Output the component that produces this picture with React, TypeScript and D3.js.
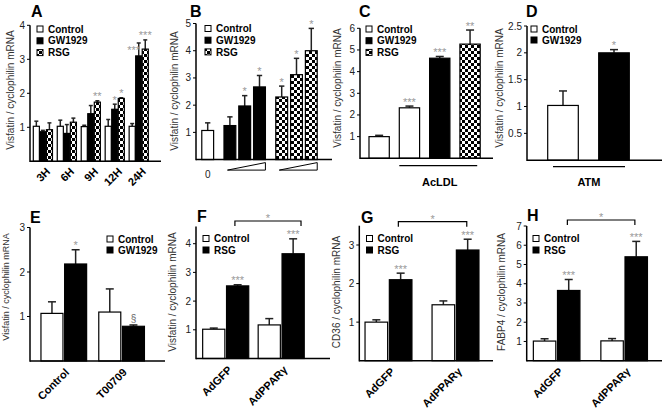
import React from "react";
import * as d3 from "d3";

// ---------------- DATA ----------------
const legend3 = ["Control", "GW1929", "RSG"];
const legendGW = ["Control", "GW1929"];
const legendRSG = ["Control", "RSG"];

const visfatinLabel = "Visfatin / cyclophilin mRNA";
const cd36Label = "CD36 / cyclophilin mRNA";
const fabp4Label = "FABP4 / cyclophilin mRNA";

// Panel A
const aGroups = ["3H", "6H", "9H", "12H", "24H"];
const aControl = [1.03, 1.03, 1.02, 1.03, 1.03];
const aControlErr = [0.15, 0.18, 0.04, 0.2, 0.08];
const aGW = [0.87, 0.82, 1.4, 1.53, 3.1];
const aGWErr = [0.04, 0.26, 0.24, 0.15, 0.38];
const aGWSig = ["", "", "", "*", "***"];
const aRSG = [0.93, 1.15, 1.74, 1.85, 3.3];
const aRSGErr = [0.2, 0.12, 0.04, 0.02, 0.27];
const aRSGSig = ["", "", "**", "*", "***"];
const aTicks = [1, 2, 3, 4];

// Panel B
const bZeroLabel = "0";
const bControl = [1.07];
const bControlErr = [0.28];
const bGW = [1.25, 1.97, 2.67];
const bGWErr = [0.32, 0.38, 0.42];
const bGWSig = ["", "*", "*"];
const bRSG = [2.3, 3.12, 4.0];
const bRSGErr = [0.4, 0.6, 0.82];
const bRSGSig = ["*", "*", "*"];
const bTicks = [1, 2, 3, 4, 5];

// Panel C
const cCategories = ["Control", "AcLDL", "AcLDL+GW1929", "AcLDL+RSG"];
const cValues = [1.0, 2.33, 4.62, 5.27];
const cErr = [0.06, 0.08, 0.08, 0.65];
const cSig = ["", "***", "***", "**"];
const cTicks = [1, 2, 3, 4, 5, 6];
const cTreatment = "AcLDL";

// Panel D
const dCategories = ["Control", "GW1929"];
const dValues = [1.02, 2.0];
const dErr = [0.27, 0.06];
const dSig = ["", "*"];
const dTicks = [0.5, 1, 1.5, 2, 2.5];
const dTreatment = "ATM";

// Panel E
const eGroups = ["Control", "T00709"];
const eControl = [1.07, 1.1];
const eControlErr = [0.26, 0.52];
const eGW = [2.18, 0.78];
const eGWErr = [0.32, 0.03];
const eGWSig = ["*", "§"];
const eTicks = [1, 2, 3];

// Panels F, G, H
const adGroups = ["AdGFP", "AdPPARγ"];
const fControl = [1.02, 1.17];
const fControlErr = [0.04, 0.22];
const fRSG = [2.53, 3.65];
const fRSGErr = [0.04, 0.52];
const fRSGSig = ["***", "***"];
const fTicks = [1, 2, 3, 4];

const gControl = [1.0, 1.45];
const gControlErr = [0.06, 0.1];
const gRSG = [2.1, 2.87];
const gRSGErr = [0.17, 0.28];
const gRSGSig = ["***", "***"];
const gTicks = [1, 2, 3];

const hControl = [1.02, 1.03];
const hControlErr = [0.12, 0.12];
const hRSG = [3.65, 5.4];
const hRSGErr = [0.57, 0.8];
const hRSGSig = ["***", "***"];
const hTicks = [1, 2, 3, 4, 5, 6, 7];

const bracketSig = "*";

// ---------------- RENDER ----------------
const FONT = "Arial, 'Liberation Sans', Helvetica, sans-serif";
type Fill = "white" | "black" | "check";
interface Bar { x: number; w: number; v: number; err: number; fill: Fill; sig: string; sdx?: number; sdy?: number; }
interface Series { vals: number[]; errs: number[]; sigs: string[]; fill: Fill; }

const fillOf = (f: Fill) => (f === "white" ? "#fff" : f === "black" ? "#000" : "url(#checker)");
const fills3: Fill[] = ["white", "black", "check"];

function grouped(groups: string[], series: Series[], range: [number, number], pi: number, po: number, ip: number) {
  const outer = d3.scaleBand().domain(groups).range(range).paddingInner(pi).paddingOuter(po);
  const inner = d3.scaleBand().domain(series.map((_, i) => String(i))).range([0, outer.bandwidth()]).paddingInner(ip);
  const bars: Bar[] = [];
  groups.forEach((g, gi) => {
    series.forEach((s, si) => {
      bars.push({ x: (outer(g) as number) + (inner(String(si)) as number), w: inner.bandwidth(), v: s.vals[gi], err: s.errs[gi], sig: s.sigs[gi], fill: s.fill });
    });
  });
  return { outer, bars };
}

function YAxis({ y, x0, ticks, top, fmt }: { y: any; x0: number; ticks: number[]; top: number; fmt?: (v: number) => string }) {
  return (
    <g>
      <line x1={x0} x2={x0} y1={y(0) + 0.75} y2={y(top)} stroke="#000" strokeWidth={1.5} />
      {ticks.map((t) => (
        <g key={t}>
          <line x1={x0 - 3} x2={x0} y1={y(t)} y2={y(t)} stroke="#000" strokeWidth={1} />
          <text x={x0 - 5} y={y(t)} dy="0.35em" textAnchor="end" fontSize={10} fill="#222">{fmt ? fmt(t) : String(t)}</text>
        </g>
      ))}
    </g>
  );
}

function XAxis({ y, x0, x1 }: { y: number; x0: number; x1: number }) {
  return <line x1={x0} x2={x1} y1={y} y2={y} stroke="#000" strokeWidth={1.5} />;
}

function Bars({ bars, y }: { bars: Bar[]; y: any }) {
  return (
    <g>
      {bars.map((b, i) => {
        const top = y(b.v);
        const capY = y(b.v + b.err);
        const cx = b.x + b.w / 2;
        const cap = Math.max(4, Math.min(8, b.w * 0.45));
        const isSect = b.sig === "§";
        return (
          <g key={i}>
            <line x1={cx} x2={cx} y1={top} y2={capY} stroke="#222" strokeWidth={1.5} />
            <line x1={cx - cap / 2} x2={cx + cap / 2} y1={capY} y2={capY} stroke="#222" strokeWidth={1.5} />
            <rect x={b.x} y={top} width={b.w} height={y(0) - top} fill={fillOf(b.fill)} stroke="#000" strokeWidth={1.2} />
            {b.sig ? (
              <text x={cx + (b.sdx || 0)} y={capY + (isSect ? -2.5 : -0.5) + (b.sdy || 0)} textAnchor="middle" fontSize={isSect ? 10 : 11} fill={isSect ? "#666" : "#999"}>{b.sig}</text>
            ) : null}
          </g>
        );
      })}
    </g>
  );
}

function Legend({ labels, fillsList, x, y, step }: { labels: string[]; fillsList: Fill[]; x: number; y: number; step: number }) {
  return (
    <g>
      {labels.map((l, i) => (
        <g key={l}>
          <rect x={x} y={y + i * step - 3} width={6} height={6} fill={fillOf(fillsList[i])} stroke="#000" strokeWidth={1} />
          <text x={x + 11} y={y + i * step + 3.6} fontSize={10} fontWeight="bold" fill="#000">{l}</text>
        </g>
      ))}
    </g>
  );
}

function YLabel({ text, x, y, size }: { text: string; x: number; y: number; size: number }) {
  return <text transform={`translate(${x},${y}) rotate(-90)`} textAnchor="middle" fontSize={size} fill="#333">{text}</text>;
}

function Letter({ t, x, y }: { t: string; x: number; y: number }) {
  return <text x={x} y={y} fontSize={16} fontWeight="bold" fill="#000">{t}</text>;
}

function RotLabels({ labels, outer, y0, dx, dy, size }: { labels: string[]; outer: any; y0: number; dx: number; dy: number; size: number }) {
  return (
    <g>
      {labels.map((l) => {
        const cx = outer(l) + outer.bandwidth() / 2;
        return <text key={l} transform={`translate(${cx + dx},${y0 + dy}) rotate(-45)`} textAnchor="end" fontSize={size} fontWeight="bold" fill="#000">{l}</text>;
      })}
    </g>
  );
}

function Bracket({ x1, x2, y, sig }: { x1: number; x2: number; y: number; sig: string }) {
  return (
    <g>
      <path d={`M${x1},${y + 5}V${y}H${x2}V${y + 5}`} fill="none" stroke="#000" strokeWidth={1.2} />
      <text x={(x1 + x2) / 2} y={y + 1} textAnchor="middle" fontSize={11} fill="#999">{sig}</text>
    </g>
  );
}

export default function App() {
  // ---- Panel A
  const yA = d3.scaleLinear().domain([0, 4]).range([161.3, 25.3]);
  const A = grouped(aGroups, [
    { vals: aControl, errs: aControlErr, sigs: aGroups.map(() => ""), fill: "white" },
    { vals: aGW, errs: aGWErr, sigs: aGWSig, fill: "black" },
    { vals: aRSG, errs: aRSGErr, sigs: aRSGSig, fill: "check" },
  ], [30.9, 150.7], 0.2, 0.1, 0.07);
  // avoid collision of the 24H GW1929 stars with the RSG stars
  A.bars[13].sdx = -5; A.bars[13].sdy = 12;

  // ---- Panel B
  const yB = d3.scaleLinear().domain([0, 5]).range([159.6, 23.5]);
  const slots = [0, 1.5, 2.5, 3.5, 5, 6, 7];
  const xB = d3.scaleLinear().domain([0, 7]).range([207.7, 311.3]);
  const bStep = xB(1) - xB(0);
  const bW = bStep * 0.8;
  const bVals = [...bControl, ...bGW, ...bRSG];
  const bErrs = [...bControlErr, ...bGWErr, ...bRSGErr];
  const bSigs = ["", ...bGWSig, ...bRSGSig];
  const bFills: Fill[] = ["white", "black", "black", "black", "check", "check", "check"];
  const B: Bar[] = bVals.map((v, i) => ({ x: xB(slots[i]) - bW / 2, w: bW, v, err: bErrs[i], sig: bSigs[i], fill: bFills[i] }));
  const wedge = (a: number, b: number) => {
    const l = xB(a) - bW / 2 + 3.5, r = xB(b) + bW / 2;
    const yb = yB(0) + 10.5;
    return `M${l},${yb}L${r},${yb - 7.5}L${r},${yb}Z`;
  };

  // ---- Panel C
  const yC = d3.scaleLinear().domain([0, 6]).range([158.3, 28.3]);
  const xC = d3.scaleBand().domain(cCategories).range([359.9, 489.3]).paddingInner(0.33).paddingOuter(0.3);
  const cFills: Fill[] = ["white", "white", "black", "check"];
  const C: Bar[] = cCategories.map((c, i) => ({ x: xC(c) as number, w: xC.bandwidth(), v: cValues[i], err: cErr[i], sig: cSig[i], fill: cFills[i] }));

  // ---- Panel D
  const yD = d3.scaleLinear().domain([0, 2.5]).range([160.2, 26]);
  const xD = d3.scaleBand().domain(dCategories).range([527.3, 649.7]).paddingInner(0.4).paddingOuter(0.4);
  const dFills: Fill[] = ["white", "black"];
  const D: Bar[] = dCategories.map((c, i) => ({ x: xD(c) as number, w: xD.bandwidth(), v: dValues[i], err: dErr[i], sig: dSig[i], fill: dFills[i] }));

  // ---- Panel E
  const yE = d3.scaleLinear().domain([0, 3]).range([361, 227.5]);
  const E = grouped(eGroups, [
    { vals: eControl, errs: eControlErr, sigs: ["", ""], fill: "white" },
    { vals: eGW, errs: eGWErr, sigs: eGWSig, fill: "black" },
  ], [29.4, 156], 0.21, 0.2, 0.07);

  // ---- Panel F
  const yF = d3.scaleLinear().domain([0, 4]).range([358.5, 243.7]);
  const F = grouped(adGroups, [
    { vals: fControl, errs: fControlErr, sigs: ["", ""], fill: "white" },
    { vals: fRSG, errs: fRSGErr, sigs: fRSGSig, fill: "black" },
  ], [196, 310.9], 0.17, 0.12, 0.07);

  // ---- Panel G
  const yG = d3.scaleLinear().domain([0, 3]).range([360.7, 245]);
  const G = grouped(adGroups, [
    { vals: gControl, errs: gControlErr, sigs: ["", ""], fill: "white" },
    { vals: gRSG, errs: gRSGErr, sigs: gRSGSig, fill: "black" },
  ], [359, 485], 0.3, 0.09, 0.07);

  // ---- Panel H
  const yH = d3.scaleLinear().domain([0, 7]).range([360.7, 226]);
  const H = grouped(adGroups, [
    { vals: hControl, errs: hControlErr, sigs: ["", ""], fill: "white" },
    { vals: hRSG, errs: hRSGErr, sigs: hRSGSig, fill: "black" },
  ], [526.6, 654.2], 0.31, 0.1, 0.07);

  const bx = (o: any, g: string, f: number) => o(g) + o.bandwidth() * f;

  return (
    <svg width={664} height={410} style={{ position: "absolute", left: 0, top: 0, background: "#fff" }} fontFamily={FONT}>
      <defs>
        <pattern id="checker" patternUnits="userSpaceOnUse" width={6} height={6}>
          <rect x={0} y={0} width={6} height={6} fill="#fff" />
          <rect x={0} y={0} width={3} height={3} fill="#000" />
          <rect x={3} y={3} width={3} height={3} fill="#000" />
        </pattern>
      </defs>
      <rect width={664} height={410} fill="#fff" />

      {/* A */}
      <Letter t="A" x={31} y={17} />
      <YLabel text={visfatinLabel} x={14} y={90} size={10} />
      <Bars bars={A.bars} y={yA} />
      <YAxis y={yA} x0={30} ticks={aTicks} top={4} />
      <XAxis y={yA(0)} x0={30} x1={161} />
      <Legend labels={legend3} fillsList={fills3} x={37} y={29} step={11.8} />
      <RotLabels labels={aGroups} outer={A.outer} y0={yA(0)} dx={8} dy={11} size={11} />

      {/* B */}
      <Letter t="B" x={190} y={17} />
      <YLabel text={visfatinLabel} x={178} y={91} size={10} />
      <Bars bars={B} y={yB} />
      <YAxis y={yB} x0={196} ticks={bTicks} top={5} />
      <XAxis y={yB(0)} x0={196} x1={332} />
      <Legend labels={legend3} fillsList={fills3} x={205} y={28.5} step={11.7} />
      <text x={xB(0)} y={yB(0) + 18} textAnchor="middle" fontSize={10} fill="#222">{bZeroLabel}</text>
      <path d={wedge(1.5, 3.5)} fill="#fff" stroke="#000" strokeWidth={1} />
      <path d={wedge(5, 7)} fill="#fff" stroke="#000" strokeWidth={1} />

      {/* C */}
      <Letter t="C" x={359} y={17} />
      <YLabel text={visfatinLabel} x={341} y={88} size={10} />
      <Bars bars={C} y={yC} />
      <YAxis y={yC} x0={360} ticks={cTicks} top={6} />
      <XAxis y={yC(0)} x0={360} x1={493} />
      <Legend labels={legend3} fillsList={fills3} x={366} y={29} step={11.7} />
      <line x1={xC(cCategories[1]) as number} x2={(xC(cCategories[3]) as number) + xC.bandwidth() - 3} y1={165.7} y2={165.7} stroke="#000" strokeWidth={1.3} />
      <text x={((xC(cCategories[1]) as number) + (xC(cCategories[3]) as number) + xC.bandwidth()) / 2} y={186} textAnchor="middle" fontSize={11} fontWeight="bold">{cTreatment}</text>

      {/* D */}
      <Letter t="D" x={526} y={17} />
      <YLabel text={visfatinLabel} x={503} y={88} size={10} />
      <Bars bars={D} y={yD} />
      <YAxis y={yD} x0={527} ticks={dTicks} top={2.5} />
      <XAxis y={yD(0)} x0={527} x1={662} />
      <Legend labels={legendGW} fillsList={["white", "black"]} x={531} y={29} step={11} />
      <line x1={553} x2={625} y1={166.7} y2={166.7} stroke="#000" strokeWidth={1.3} />
      <text x={589} y={186} textAnchor="middle" fontSize={11} fontWeight="bold">{dTreatment}</text>

      {/* E */}
      <Letter t="E" x={30} y={223} />
      <YLabel text={visfatinLabel} x={9} y={287} size={9} />
      <Bars bars={E.bars} y={yE} />
      <YAxis y={yE} x0={30} ticks={eTicks} top={3} />
      <XAxis y={yE(0)} x0={30} x1={165} />
      <Legend labels={legendGW} fillsList={["white", "black"]} x={107} y={239} step={11} />
      <RotLabels labels={eGroups} outer={E.outer} y0={yE(0)} dx={6} dy={12} size={11} />

      {/* F */}
      <Letter t="F" x={197} y={222} />
      <YLabel text={visfatinLabel} x={176} y={292} size={10} />
      <Bars bars={F.bars} y={yF} />
      <YAxis y={yF} x0={196} ticks={fTicks} top={4.6} />
      <XAxis y={yF(0)} x0={196} x1={330} />
      <Legend labels={legendRSG} fillsList={["white", "black"]} x={203} y={238.5} step={11.5} />
      <RotLabels labels={adGroups} outer={F.outer} y0={yF(0)} dx={7} dy={12} size={11} />
      <Bracket x1={bx(F.outer, adGroups[0], 0.7)} x2={bx(F.outer, adGroups[1], 0.93)} y={221} sig={bracketSig} />

      {/* G */}
      <Letter t="G" x={361} y={223} />
      <YLabel text={cd36Label} x={340} y={292} size={10} />
      <Bars bars={G.bars} y={yG} />
      <YAxis y={yG} x0={359.3} ticks={gTicks} top={3.5} />
      <XAxis y={yG(0)} x0={359.3} x1={493} />
      <Legend labels={legendRSG} fillsList={["white", "black"]} x={366.5} y={238.5} step={11.5} />
      <RotLabels labels={adGroups} outer={G.outer} y0={yG(0)} dx={7} dy={11.5} size={11} />
      <Bracket x1={bx(G.outer, adGroups[0], 0.71)} x2={bx(G.outer, adGroups[1], 0.74)} y={221.7} sig={bracketSig} />

      {/* H */}
      <Letter t="H" x={527} y={221} />
      <YLabel text={fabp4Label} x={505} y={292} size={10} />
      <Bars bars={H.bars} y={yH} />
      <YAxis y={yH} x0={526.7} ticks={hTicks} top={7} />
      <XAxis y={yH(0)} x0={526.7} x1={662} />
      <Legend labels={legendRSG} fillsList={["white", "black"]} x={533} y={238.5} step={11.5} />
      <RotLabels labels={adGroups} outer={H.outer} y0={yH(0)} dx={7} dy={11.5} size={11} />
      <Bracket x1={bx(H.outer, adGroups[0], 0.73)} x2={bx(H.outer, adGroups[1], 0.73)} y={220} sig={bracketSig} />
    </svg>
  );
}
